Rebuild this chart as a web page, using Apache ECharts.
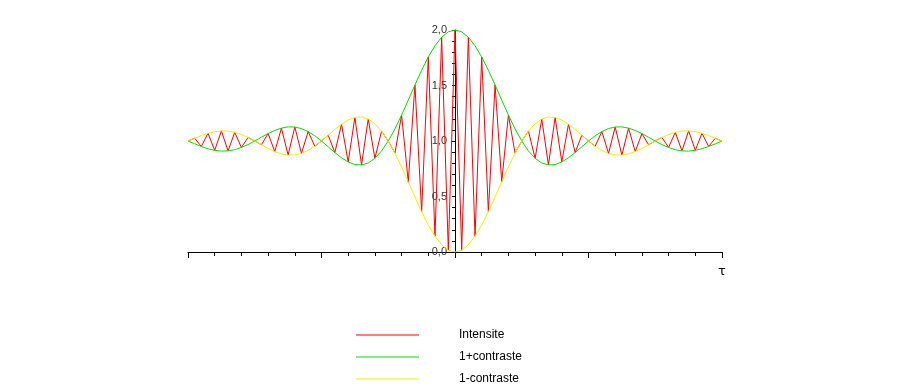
<!DOCTYPE html>
<html>
<head>
<meta charset="utf-8">
<script src="https://cdn.jsdelivr.net/npm/echarts@6/dist/echarts.min.js"></script>
<style>html,body{margin:0;padding:0;background:#fff;}#c{width:905px;height:392px;}</style>
</head>
<body>
<div id="c"></div>
<script>
// sample positions along tau (extrema of the fringes)
const tau = [-10,-9.75,-9.5,-9.25,-9,-8.75,-8.5,-8.25,-8,-7.75,-7.5,-7.25,-7,-6.75,-6.5,-6.25,-6,-5.75,-5.5,-5.25,-5,-4.75,-4.5,-4.25,-4,-3.75,-3.5,-3.25,-3,-2.75,-2.5,-2.25,-2,-1.75,-1.5,-1.25,-1,-0.75,-0.5,-0.25,0,0.25,0.5,0.75,1,1.25,1.5,1.75,2,2.25,2.5,2.75,3,3.25,3.5,3.75,4,4.25,4.5,4.75,5,5.25,5.5,5.75,6,6.25,6.5,6.75,7,7.25,7.5,7.75,8,8.25,8.5,8.75,9,9.25,9.5,9.75,10];

const intensite = [1,1.025,0.951,1.070,0.916,1.091,0.911,1.078,0.942,1.032,1,0.966,1.067,0.905,1.116,0.873,1.126,0.888,1.085,0.953,1,1.052,0.896,1.151,0.811,1.212,0.784,1.198,0.844,1.089,1,0.891,1.234,0.632,1.505,0.363,1.757,0.142,1.935,0.016,2,0.016,1.935,0.142,1.757,0.363,1.505,0.632,1.234,0.891,1,1.089,0.844,1.198,0.784,1.212,0.811,1.151,0.896,1.052,1,0.953,1.085,0.888,1.126,0.873,1.116,0.905,1.067,0.966,1,1.032,0.942,1.078,0.911,1.091,0.916,1.070,0.951,1.025,1];

const unPlusContraste = [1,0.975,0.951,0.930,0.916,0.909,0.911,0.922,0.942,0.968,1,1.034,1.067,1.095,1.116,1.127,1.126,1.112,1.085,1.047,1,0.948,0.896,0.849,0.811,0.788,0.784,0.802,0.844,0.911,1,1.109,1.234,1.368,1.505,1.637,1.757,1.858,1.935,1.984,2,1.984,1.935,1.858,1.757,1.637,1.505,1.368,1.234,1.109,1,0.911,0.844,0.802,0.784,0.788,0.811,0.849,0.896,0.948,1,1.047,1.085,1.112,1.126,1.127,1.116,1.095,1.067,1.034,1,0.968,0.942,0.922,0.911,0.909,0.916,0.930,0.951,0.975,1];

const unMoinsContraste = [1,1.025,1.049,1.070,1.084,1.091,1.089,1.078,1.058,1.032,1,0.966,0.933,0.905,0.884,0.873,0.874,0.888,0.915,0.953,1,1.052,1.104,1.151,1.189,1.212,1.216,1.198,1.156,1.089,1,0.891,0.766,0.632,0.495,0.363,0.243,0.142,0.065,0.016,0,0.016,0.065,0.142,0.243,0.363,0.495,0.632,0.766,0.891,1,1.089,1.156,1.198,1.216,1.212,1.189,1.151,1.104,1.052,1,0.953,0.915,0.888,0.874,0.873,0.884,0.905,0.933,0.966,1,1.032,1.058,1.078,1.089,1.091,1.084,1.070,1.049,1.025,1];

const yTickValues = [0, 0.5, 1, 1.5, 2];
const yTickLabels = ['0,0', '0,5', '1,0', '1,5', '2,0'];
const seriesNames = ['Intensite', '1+contraste', '1-contraste'];

function pairs(ys) { return tau.map((t, i) => [t, ys[i]]); }

const gridLeft = 188, gridRight = 183;
const chart = echarts.init(document.getElementById('c'), null, {renderer: 'canvas'});
const plotW = 905 - gridLeft - gridRight;
chart.setOption({
  animation: false,
  backgroundColor: '#ffffff',
  grid: {left: gridLeft, right: gridRight, top: 30, bottom: 140},
  xAxis: {
    type: 'value', min: -10, max: 10, interval: 5,
    axisLine: {onZero: false, lineStyle: {color: '#000', width: 1}},
    axisTick: {show: true, length: 6, inside: false, lineStyle: {color: '#000'}},
    minorTick: {show: true, splitNumber: 5, length: 4, lineStyle: {color: '#000'}},
    axisLabel: {show: false},
    splitLine: {show: false}
  },
  yAxis: {
    type: 'value', min: 0, max: 2, interval: 0.5,
    offset: -plotW / 2,
    axisLine: {onZero: false, lineStyle: {color: '#000', width: 1}},
    axisTick: {show: true, length: 3, inside: false, lineStyle: {color: '#000'}},
    minorTick: {show: true, splitNumber: 5, length: 3, lineStyle: {color: '#000'}},
    axisLabel: {
      show: true, margin: 8, color: '#333', fontSize: 11, fontFamily: 'Liberation Sans',
      formatter: function (v) {
        const i = yTickValues.findIndex(t => Math.abs(t - v) < 1e-9);
        return i >= 0 ? yTickLabels[i] : '';
      }
    },
    splitLine: {show: false}
  },
  legend: {
    orient: 'vertical', left: 356, top: 328, itemGap: 8, padding: 0,
    icon: 'rect', itemWidth: 63, itemHeight: 1,
    data: seriesNames,
    textStyle: {color: '#000', fontSize: 12, fontFamily: 'Liberation Sans', padding: [0, 0, 0, 35], lineHeight: 14}
  },
  graphic: [{
    type: 'text', left: 718, top: 265,
    style: {text: 'τ', fill: '#000', font: '13px "DejaVu Sans"'}
  }],
  series: [
    {name: seriesNames[0], type: 'line', data: pairs(intensite), symbol: 'none',
     lineStyle: {color: '#ff0000', width: 1}, itemStyle: {color: '#ff0000'}, z: 2},
    {name: seriesNames[1], type: 'line', data: pairs(unPlusContraste), symbol: 'none',
     lineStyle: {color: '#00e000', width: 1}, itemStyle: {color: '#00e000'}, z: 3},
    {name: seriesNames[2], type: 'line', data: pairs(unMoinsContraste), symbol: 'none',
     lineStyle: {color: '#f0f000', width: 1}, itemStyle: {color: '#f0f000'}, z: 4}
  ]
});
</script>
</body>
</html>
